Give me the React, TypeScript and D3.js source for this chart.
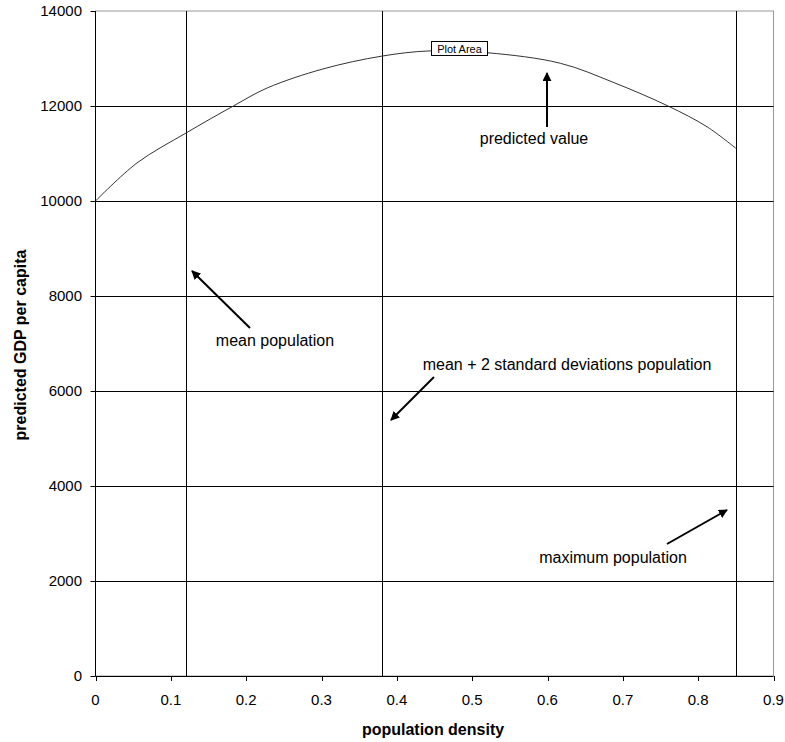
import React from "react";
import * as d3 from "d3";

const curveX = [0, 0.055, 0.12, 0.183, 0.228, 0.302, 0.38, 0.444, 0.521, 0.617, 0.687, 0.76, 0.812, 0.85];
const curveY = [10000, 10800, 11430, 12000, 12380, 12780, 13050, 13160, 13120, 12900, 12500, 12000, 11560, 11110];
const markerX = [0.12, 0.38, 0.85];
const yTicks = [0, 2000, 4000, 6000, 8000, 10000, 12000, 14000];
const xTicks = [0, 0.1, 0.2, 0.3, 0.4, 0.5, 0.6, 0.7, 0.8, 0.9];

const W = 785, H = 742;
const left = 95.5, right = 773.5, top = 11, bottom = 676;

export default function App() {
  const x = d3.scaleLinear().domain([0, 0.9]).range([left, right]);
  const y = d3.scaleLinear().domain([0, 14000]).range([bottom, top]);
  const line = d3.line<number>().x((_, i) => x(curveX[i])).y((d) => y(d)).curve(d3.curveCatmullRom.alpha(0.5));
  const font = "'Liberation Sans', Arial, sans-serif";
  const arrows = [
    { x1: 547, y1: 127, x2: 547, y2: 73 },
    { x1: 250, y1: 328, x2: 192, y2: 271 },
    { x1: 434, y1: 377, x2: 391, y2: 420 },
    { x1: 667, y1: 544, x2: 727, y2: 510 },
  ];
  const labels = [
    { t: "predicted value", x: 534, y: 144 },
    { t: "mean population", x: 275, y: 346 },
    { t: "mean + 2 standard deviations population", x: 567, y: 370 },
    { t: "maximum population", x: 613, y: 563 },
  ];
  return (
    <svg width={W} height={H} style={{ position: "absolute", left: 0, top: 0, background: "#fff" }} fontFamily={font}>
      <defs>
        <marker id="ah" viewBox="0 0 10 10" refX="9" refY="5" markerWidth="4.5" markerHeight="4.5" orient="auto">
          <path d="M0,0 L10,5 L0,10 z" fill="#000" />
        </marker>
      </defs>
      <rect x={left} y={top} width={right - left} height={bottom - top} fill="#fff" stroke="#999" strokeWidth={1} />
      {yTicks.slice(1, -1).map((t) => (
        <line key={t} x1={left} x2={right} y1={Math.round(y(t)) + 0.5} y2={Math.round(y(t)) + 0.5} stroke="#000" strokeWidth={1} />
      ))}
      {markerX.map((m) => (
        <line key={m} x1={Math.round(x(m)) + 0.5} x2={Math.round(x(m)) + 0.5} y1={top} y2={bottom} stroke="#000" strokeWidth={1} />
      ))}
      <path d={line(curveY) || ""} fill="none" stroke="#333" strokeWidth={1} />
      <line x1={left} x2={left} y1={top} y2={bottom} stroke="#000" />
      <line x1={left} x2={right} y1={bottom + 0.5} y2={bottom + 0.5} stroke="#000" />
      {yTicks.map((t) => (
        <g key={t}>
          <line x1={left - 5} x2={left} y1={Math.round(y(t)) + 0.5} y2={Math.round(y(t)) + 0.5} stroke="#000" />
          <text x={82} y={y(t) + 5} textAnchor="end" fontSize={15} fill="#000">{t}</text>
        </g>
      ))}
      {xTicks.map((t) => (
        <g key={t}>
          <line x1={Math.round(x(t)) + 0.5} x2={Math.round(x(t)) + 0.5} y1={bottom} y2={bottom + 5} stroke="#000" />
          <text x={x(t)} y={705} textAnchor="middle" fontSize={15} fill="#000">{t}</text>
        </g>
      ))}
      <text x={433} y={735} textAnchor="middle" fontSize={16} fontWeight="bold">population density</text>
      <text transform={`translate(26,345) rotate(-90)`} textAnchor="middle" fontSize={16} fontWeight="bold">predicted GDP per capita</text>
      {arrows.map((a, i) => (
        <line key={i} x1={a.x1} y1={a.y1} x2={a.x2} y2={a.y2} stroke="#000" strokeWidth={2} markerEnd="url(#ah)" />
      ))}
      {labels.map((l) => (
        <text key={l.t} x={l.x} y={l.y} textAnchor="middle" fontSize={16} fill="#000">{l.t}</text>
      ))}
      <rect x={431.5} y={41.5} width={56} height={14} fill="#fff" stroke="#000" strokeWidth={1} />
      <text x={459.5} y={52.5} textAnchor="middle" fontSize={11} fill="#000">Plot Area</text>
    </svg>
  );
}
